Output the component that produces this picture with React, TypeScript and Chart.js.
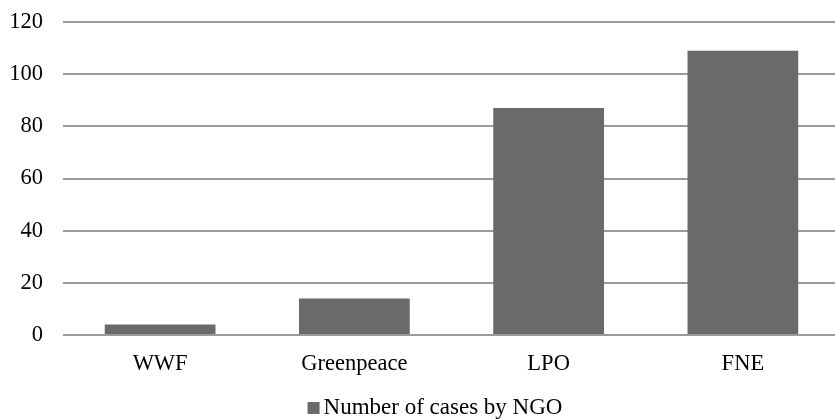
import React, { useEffect, useRef } from "react";
import { Chart, registerables } from "chart.js";

Chart.register(...registerables);

const categories = ["WWF", "Greenpeace", "LPO", "FNE"];
const cases = [4, 14, 87, 109];
const seriesLabel = "Number of cases by NGO";
const yMin = 0;
const yMax = 120;
const yStep = 20;

const FONT_FAMILY = "'Liberation Serif', 'Times New Roman', serif";

const bottomLegend = {
  id: "bottomLegend",
  afterDraw(chart: any) {
    const ctx = chart.ctx;
    const ds = chart.data.datasets[0];
    const area = chart.chartArea;
    ctx.save();
    ctx.font = `23px ${FONT_FAMILY}`;
    const tw = ctx.measureText(ds.label).width;
    const box = 12;
    const gap = 4;
    const total = box + gap + tw;
    const cx = (area.left + area.right) / 2 - 16.5;
    const x0 = cx - total / 2;
    const baseline = area.bottom + 79;
    ctx.fillStyle = ds.backgroundColor;
    ctx.fillRect(x0, baseline - 12, box, box);
    ctx.fillStyle = "#000";
    ctx.textBaseline = "alphabetic";
    ctx.textAlign = "left";
    ctx.fillText(ds.label, x0 + box + gap, baseline);
    ctx.restore();
  },
};

export default function App() {
  const ref = useRef<HTMLCanvasElement | null>(null);
  useEffect(() => {
    if (!ref.current) return;
    const tickFont = { family: FONT_FAMILY, size: 22.5 };
    const chart = new Chart(ref.current, {
      type: "bar",
      data: {
        labels: categories,
        datasets: [
          {
            label: seriesLabel,
            data: cases,
            backgroundColor: "#6a6a6a",
            borderWidth: 0,
            categoryPercentage: 1,
            barPercentage: 0.57,
          },
        ],
      },
      plugins: [bottomLegend],
      options: {
        responsive: false,
        animation: false,
        devicePixelRatio: 1,
        layout: { padding: { top: 22, right: 5, left: 0, bottom: 43 } },
        plugins: {
          legend: { display: false },
          tooltip: { enabled: false },
        },
        scales: {
          x: {
            grid: { display: false, drawTicks: false },
            border: { display: false },
            ticks: { font: tickFont, color: "#000", padding: 16 },
            afterFit: (s: any) => {
              s.height = 41;
              s.paddingLeft = 0;
              s.paddingRight = 0;
            },
          },
          y: {
            min: yMin,
            max: yMax,
            ticks: { stepSize: yStep, font: tickFont, color: "#000", padding: 20 },
            grid: { color: "#9a9a9a", lineWidth: 2, drawTicks: false },
            border: { display: false },
            afterFit: (s: any) => {
              s.width = 63;
              s.paddingTop = 0;
              s.paddingBottom = 0;
            },
          },
        },
      },
    });
    return () => chart.destroy();
  }, []);
  return (
    <div style={{ position: "fixed", left: 0, top: 0, width: 835, height: 419, overflow: "hidden", background: "#fff" }}>
      <canvas ref={ref} width={845} height={419} style={{ width: 845, height: 419, display: "block" }} />
    </div>
  );
}
